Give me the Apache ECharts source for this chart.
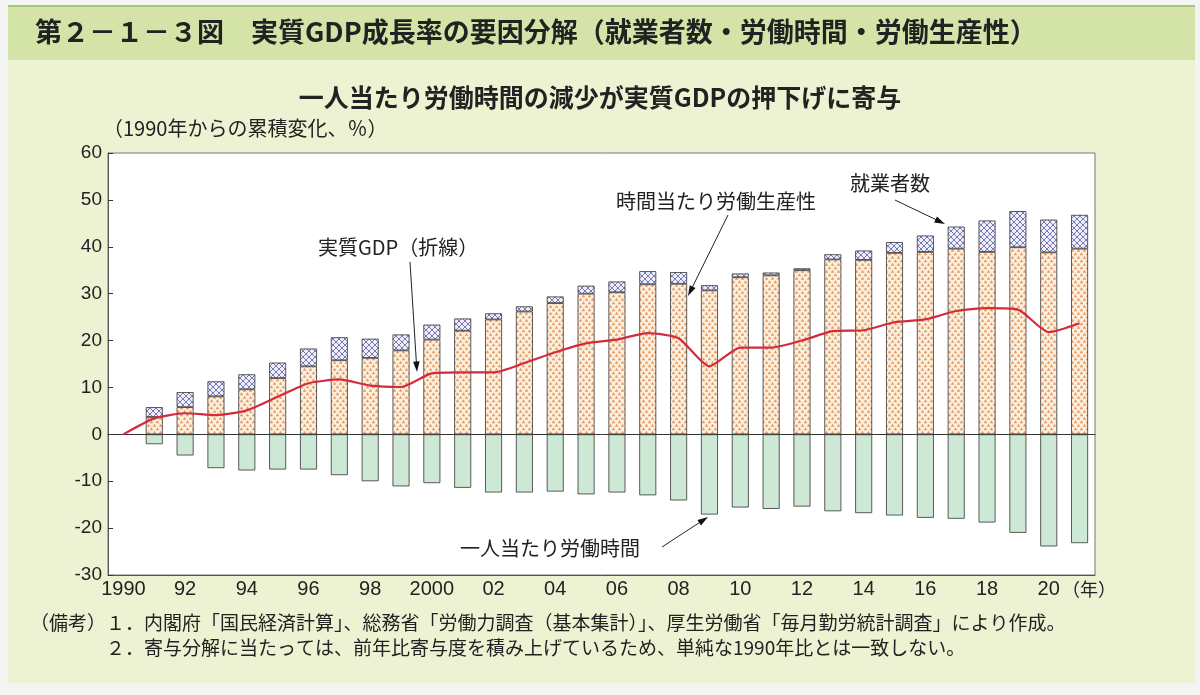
<!DOCTYPE html>
<head>
    <meta charset="utf-8">
    <script type="text/javascript" src="https://cdn.jsdelivr.net/npm/echarts@6/dist/echarts.min.js"></script>
    <style>body{margin:0;background:#f4f4f2;}</style>
</head>
<body>
	<div id="main" style="width:1200px; height:695px"></div>
	<script type="text/javascript">
		var years = ['1990','91','92','93','94','95','96','97','98','99','2000','01','02','03','04','05','06','07','08','09','10','11','12','13','14','15','16','17','18','19','20','21'];
		// 時間当たり労働生産性 (stack bottom)
		var productivity = [null,3.7,5.8,8.1,9.6,12.0,14.5,15.8,16.3,17.9,20.2,22.1,24.5,26.2,28.0,30.0,30.3,32.0,32.1,30.7,33.5,33.9,35.0,37.3,37.2,38.7,38.9,39.6,38.9,39.9,38.8,39.6];
		// 就業者数 (on top of productivity)
		var employment = [null,2.1,3.2,3.2,3.2,3.3,3.8,4.9,4.1,3.4,3.2,2.6,1.3,1.1,1.4,1.7,2.3,2.8,2.5,1.1,0.8,0.6,0.4,1.1,2.0,2.3,3.5,4.7,6.7,7.7,7.0,7.2];
		// 一人当たり労働時間
		var hours = [null,-2.1,-4.5,-7.2,-7.7,-7.5,-7.5,-8.7,-10.0,-11.1,-10.4,-11.4,-12.4,-12.4,-12.2,-12.8,-12.4,-13.0,-14.1,-17.1,-15.6,-15.9,-15.4,-16.4,-16.8,-17.3,-17.8,-18.0,-18.8,-21.0,-23.9,-23.2];
		// 実質GDP (line)
		var gdp = [0,3.4,4.5,4.1,5.1,8.0,10.9,11.7,10.4,10.1,13.0,13.2,13.2,15.2,17.5,19.4,20.2,21.6,20.5,14.5,18.5,18.5,20.0,22.0,22.2,23.9,24.5,26.3,26.9,26.6,21.8,23.7];

		function dotPattern() {
			var c = document.createElement('canvas');
			c.width = 6; c.height = 7;
			var g = c.getContext('2d');
			g.fillStyle = '#fdefdd'; g.fillRect(0, 0, 6, 7);
			g.fillStyle = '#e49a62';
			g.beginPath(); g.moveTo(1.5, 0.3); g.lineTo(3.2, 3.2); g.lineTo(-0.2, 3.2); g.fill();
			g.beginPath(); g.moveTo(4.5, 3.8); g.lineTo(6.2, 6.7); g.lineTo(2.8, 6.7); g.fill();
			return c;
		}
		function crossPattern() {
			var c = document.createElement('canvas');
			c.width = 6; c.height = 6;
			var g = c.getContext('2d');
			g.fillStyle = '#eeeef8'; g.fillRect(0, 0, 6, 6);
			g.strokeStyle = '#6b6bb0'; g.lineWidth = 0.9;
			g.beginPath(); g.moveTo(0, 0); g.lineTo(6, 6); g.moveTo(6, 0); g.lineTo(0, 6); g.stroke();
			return c;
		}

		function arrowLine(x1, y1, x2, y2) {
			var a = Math.atan2(y2 - y1, x2 - x1), L = 11, w = 0.3;
			return [
				{type: 'line', shape: {x1: x1, y1: y1, x2: x2 - Math.cos(a) * 6, y2: y2 - Math.sin(a) * 6}, style: {stroke: '#222', lineWidth: 1}},
				{type: 'polygon', shape: {points: [[x2, y2], [x2 - L * Math.cos(a - w), y2 - L * Math.sin(a - w)], [x2 - L * Math.cos(a + w), y2 - L * Math.sin(a + w)]]}, style: {fill: '#111'}}
			];
		}
		var font = '"Noto Sans CJK JP", sans-serif';
		function label(x, y, text, size, weight, align) {
			return {type: 'text', x: x, y: y, style: {text: text, font: (weight || 'normal') + ' ' + size + 'px ' + font, fill: '#222', textAlign: align || 'left', textVerticalAlign: 'middle'}};
		}

		var graphics = [
			{type: 'rect', shape: {x: 8, y: 5, width: 1187, height: 678}, style: {fill: '#edf2d3'}, z: -10},
			{type: 'rect', shape: {x: 8, y: 5, width: 1187, height: 55}, style: {fill: '#d4e4a9'}, z: -9},
			{type: 'rect', shape: {x: 8, y: 5, width: 1187, height: 2}, style: {fill: '#a9c77a'}, z: -8},
			{type: 'rect', shape: {x: 108, y: 153, width: 987, height: 422}, style: {fill: '#fff', stroke: '#777', lineWidth: 1}, z: -5},
			label(35, 32, '第２－１－３図　実質GDP成長率の要因分解（就業者数・労働時間・労働生産性）', 27, 'bold'),
			label(600, 97, '一人当たり労働時間の減少が実質GDPの押下げに寄与', 25, 'bold', 'center'),
			label(103, 128, '（1990年からの累積変化、％）', 20),
			label(1062, 589, '（年）', 18),
			label(318, 247, '実質GDP（折線）', 20),
			label(616, 201, '時間当たり労働生産性', 20),
			label(850, 183, '就業者数', 20),
			label(460, 548, '一人当たり労働時間', 20),
			label(30, 623, '（備考）１．内閣府「国民経済計算」、総務省「労働力調査（基本集計）」、厚生労働省「毎月勤労統計調査」により作成。', 19),
			label(30, 648, '　　　　２．寄与分解に当たっては、前年比寄与度を積み上げているため、単純な1990年比とは一致しない。', 19)
		].concat(arrowLine(410, 262, 417, 372), arrowLine(728, 215, 688, 296), arrowLine(895, 200, 945, 224), arrowLine(662, 547, 708, 517));

		var barStyle = function (color) {
			return {color: color, borderColor: '#333', borderWidth: 0.8};
		};

		var myChart = echarts.init(document.getElementById('main'));
		var option = {
			animation: false,
			grid: {left: 108, top: 153, right: 105, bottom: 120},
			graphic: graphics,
			xAxis: [
				{
					type: 'category', data: years, position: 'bottom',
					axisLine: {onZero: false, lineStyle: {color: '#555'}},
					axisTick: {show: false},
					axisLabel: {
						interval: 0, fontSize: 20, color: '#222', fontFamily: 'Liberation Sans', margin: 4,
						formatter: function (v, i) { return (i % 2 == 0 && i < 31) ? v : ''; }
					}
				},
				{
					type: 'category', data: years, position: 'bottom',
					axisLine: {onZero: true, lineStyle: {color: '#333'}},
					axisTick: {inside: true, length: 5, lineStyle: {color: '#333'}},
					axisLabel: {show: false}
				}
			],
			yAxis: {
				type: 'value', min: -30, max: 60, interval: 10,
				axisLine: {show: true, lineStyle: {color: '#555'}},
				axisTick: {show: true, inside: true, length: 5, lineStyle: {color: '#333'}},
				splitLine: {show: false},
				axisLabel: {fontSize: 19, color: '#222', fontFamily: 'Liberation Sans', margin: 6}
			},
			series: [
				{name: '時間当たり労働生産性', type: 'bar', stack: 'a', barWidth: '55%', data: productivity,
					itemStyle: barStyle({image: dotPattern(), repeat: 'repeat'})},
				{name: '就業者数', type: 'bar', stack: 'a', data: employment,
					itemStyle: barStyle({image: crossPattern(), repeat: 'repeat'})},
				{name: '一人当たり労働時間', type: 'bar', stack: 'a', data: hours,
					itemStyle: barStyle('#cde9d5')},
				{name: '実質GDP', type: 'line', data: gdp, smooth: 0.2, symbol: 'none', z: 5,
					lineStyle: {color: '#d42a3c', width: 2.2}}
			]
		};
		myChart.setOption(option);
	</script>
</body>
